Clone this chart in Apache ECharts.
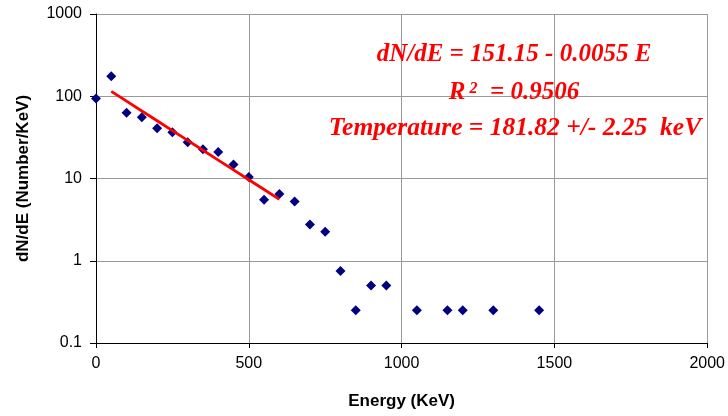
<!DOCTYPE html>
<html>
<head>
<meta charset="utf-8">
<style>
  html, body { margin: 0; padding: 0; background: #ffffff; }
  #chart { width: 728px; height: 416px; }
</style>
<script src="https://cdn.jsdelivr.net/npm/echarts@6/dist/echarts.min.js"></script>
</head>
<body>
<div id="chart"></div>
<script>
// Measured spectrum: energy bins (keV) and dN/dE (counts per keV)
const energies = [0, 50, 100, 150, 200, 250, 300, 350, 400, 450, 500, 550, 600, 650, 700, 750, 800, 850, 900, 950, 1050, 1150, 1200, 1300, 1450];
const counts   = [94, 175, 63, 55.5, 40.75, 36.5, 27.5, 22.75, 21, 14.75, 10.4, 5.5, 6.5, 5.25, 2.75, 2.25, 0.75, 0.25, 0.5, 0.5, 0.25, 0.25, 0.25, 0.25, 0.25];

// Exponential fit over the low-energy part: dN/dE = A * exp(-k E)
const fitA = 151.15;
const fitK = 0.0055;
const fitEnergies = [50, 100, 150, 200, 250, 300, 350, 400, 450, 500, 550, 600];

const yTicks = [0.1, 1, 10, 100, 1000];
const xTicks = [0, 500, 1000, 1500, 2000];

const scatterData = energies.map((e, i) => [e, counts[i]]);
const fitData = fitEnergies.map(e => [e, fitA * Math.exp(-fitK * e)]);

const chart = echarts.init(document.getElementById('chart'), null, { renderer: 'canvas' });

const serifRed = {
  fontFamily: 'Liberation Serif',
  fontWeight: 'bold',
  fontStyle: 'italic',
  fontSize: 25,
  fill: '#ff0000'
};

chart.setOption({
  backgroundColor: '#ffffff',
  animation: false,
  grid: { left: 96, right: 14, top: 14, bottom: 73, containLabel: false },
  xAxis: {
    type: 'value',
    min: xTicks[0],
    max: xTicks[xTicks.length - 1],
    interval: 500,
    name: 'Energy (KeV)',
    nameLocation: 'middle',
    nameGap: 50,
    nameTextStyle: { fontFamily: 'Liberation Sans', fontWeight: 'bold', fontSize: 17, color: '#000' },
    axisLine: { show: true, onZero: false, lineStyle: { color: '#000', width: 1 } },
    axisTick: { show: true, length: 5, lineStyle: { color: '#000' } },
    axisLabel: { fontFamily: 'Liberation Sans', fontSize: 16, color: '#000', margin: 13, formatter: v => String(v) },
    splitLine: { show: true, lineStyle: { color: '#999', width: 1 } }
  },
  yAxis: {
    type: 'log',
    logBase: 10,
    min: yTicks[0],
    max: yTicks[yTicks.length - 1],
    name: 'dN/dE (Number/KeV)',
    nameLocation: 'middle',
    nameGap: 64,
    nameTextStyle: { fontFamily: 'Liberation Sans', fontWeight: 'bold', fontSize: 17, color: '#000' },
    axisLine: { show: true, onZero: false, lineStyle: { color: '#000', width: 1 } },
    axisTick: { show: true, length: 6, lineStyle: { color: '#000' } },
    minorTick: { show: false },
    axisLabel: {
      fontFamily: 'Liberation Sans', fontSize: 16, color: '#000', margin: 14,
      formatter: v => String(+v.toPrecision(3))
    },
    splitLine: { show: true, lineStyle: { color: '#999', width: 1 } }
  },
  series: [
    {
      name: 'dN/dE',
      type: 'scatter',
      data: scatterData,
      symbol: 'diamond',
      symbolSize: 10,
      itemStyle: { color: '#000080', opacity: 1 },
      z: 3
    },
    {
      name: 'fit',
      type: 'line',
      data: fitData,
      showSymbol: false,
      symbol: 'none',
      lineStyle: { color: '#ff0000', width: 2.8 },
      z: 4
    }
  ],
  graphic: [
    {
      type: 'text', z: 10,
      style: Object.assign({ text: 'dN/dE = 151.15 - 0.0055 E', x: 514, y: 55, textAlign: 'center', textVerticalAlign: 'middle' }, serifRed)
    },
    {
      type: 'text', z: 10,
      style: {
        text: '{b|R}{s| 2}{b|  = 0.9506}',
        x: 514, y: 93, textAlign: 'center', textVerticalAlign: 'middle',
        rich: {
          b: { fontFamily: 'Liberation Serif', fontWeight: 'bold', fontStyle: 'italic', fontSize: 25, fill: '#ff0000' },
          s: { fontFamily: 'Liberation Serif', fontWeight: 'bold', fontStyle: 'italic', fontSize: 16, fill: '#ff0000', verticalAlign: 'top' }
        }
      }
    },
    {
      type: 'text', z: 10,
      style: Object.assign({}, serifRed, { text: 'Temperature = 181.82 +/- 2.25  keV', x: 515, y: 128, textAlign: 'center', textVerticalAlign: 'middle', fontSize: 25.5 })
    }
  ]
});
</script>
</body>
</html>
